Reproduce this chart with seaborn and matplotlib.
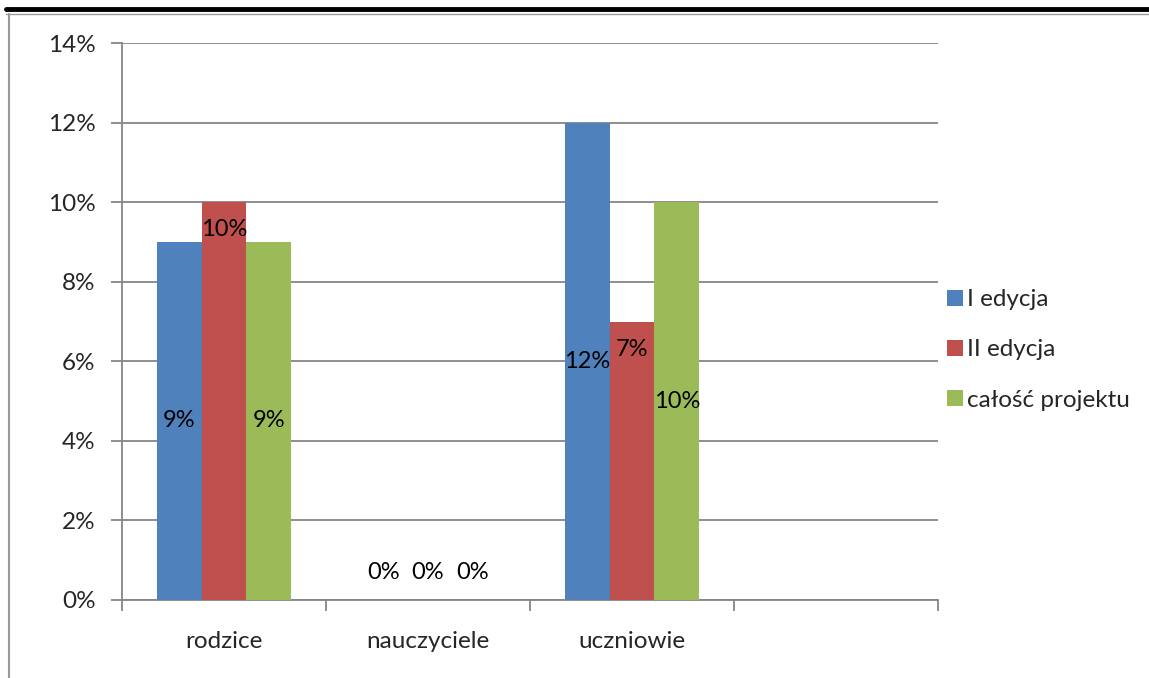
import seaborn as sns
import matplotlib.pyplot as plt
import pandas as pd
from matplotlib.lines import Line2D
from matplotlib.ticker import FixedLocator, PercentFormatter

# Data
categories = ['rodzice', 'nauczyciele', 'uczniowie']
series = ['I edycja', 'II edycja', 'całość projektu']
edycja_1 = [9, 0, 12]
edycja_2 = [10, 0, 7]
calosc = [9, 0, 10]
# where the data labels sit (in % units), as placed in the original
label_pos_1 = [4.5, 0.7, 6.0]
label_pos_2 = [9.3, 0.7, 6.3]
label_pos_3 = [4.5, 0.7, 5.0]

colors = ['#4F81BD', '#C0504D', '#9BBB59']

df = pd.DataFrame({
    'kategoria': categories * 3,
    'seria': [s for s in series for _ in categories],
    'wartosc': edycja_1 + edycja_2 + calosc,
})

sns.set_style('white')
plt.rcParams['font.family'] = ['Lato', 'DejaVu Sans']

fig = plt.figure(figsize=(11.49, 6.78), dpi=100)
ax = fig.add_axes([122 / 1149, 1 - 600 / 678, 816 / 1149, 557 / 678])

sns.barplot(data=df, x='kategoria', y='wartosc', hue='seria', order=categories,
            hue_order=series, palette=colors, width=0.66, saturation=1,
            linewidth=0, ax=ax, legend=True, zorder=3)

# data labels
for cont, pos, vals in zip(ax.containers, [label_pos_1, label_pos_2, label_pos_3],
                           [edycja_1, edycja_2, calosc]):
    for bar, p, v in zip(cont, pos, vals):
        ax.text(bar.get_x() + bar.get_width() / 2, p, f'{v}%', ha='center', va='center',
                fontsize=17, color='black', zorder=4)

ax.set_xlim(-0.5, 3.5)
ax.set_ylim(0, 14)
ax.set_yticks(range(0, 15, 2))
ax.yaxis.set_major_formatter(PercentFormatter(decimals=0))
ax.grid(axis='y', color='#868686', linewidth=1.3, zorder=0)
ax.set_axisbelow(True)

# category boundary ticks, labels centred between them
ax.xaxis.set_major_locator(FixedLocator([-0.5, 0.5, 1.5, 2.5, 3.5]))
ax.xaxis.set_minor_locator(FixedLocator([0, 1, 2]))
ax.set_xticklabels([''] * 5)
ax.set_xticklabels(categories, minor=True)
ax.tick_params(axis='x', which='major', direction='out', length=8, width=1.3,
               color='#868686', bottom=True)
ax.tick_params(axis='x', which='minor', length=0, pad=22, labelsize=17.5)
ax.tick_params(axis='y', direction='out', length=8, width=1.3, color='#868686',
               left=True, labelsize=17.5, pad=11)

for s in ['top', 'right']:
    ax.spines[s].set_visible(False)
for s in ['left', 'bottom']:
    ax.spines[s].set_color('#868686')
    ax.spines[s].set_linewidth(1.3)

ax.set_xlabel('')
ax.set_ylabel('')

leg = ax.legend(loc='center left', bbox_to_anchor=(937 / 1149, 1 - 350 / 678),
                bbox_transform=fig.transFigure, frameon=False, fontsize=17.5,
                handlelength=0.65, handleheight=0.65, handletextpad=0.2,
                labelspacing=1.2, borderaxespad=0)

# page border lines from the original screenshot
fig.add_artist(Line2D([6 / 1149, 1], [1 - 9 / 678, 1 - 9 / 678], color='black', linewidth=3.5))
fig.add_artist(Line2D([6 / 1149, 1], [1 - 14 / 678, 1 - 14 / 678], color='#9a9a9a', linewidth=1))
fig.add_artist(Line2D([8.5 / 1149, 8.5 / 1149], [0, 1 - 14 / 678], color='#9a9a9a', linewidth=1.5))

fig.savefig('out.png', dpi=100)
